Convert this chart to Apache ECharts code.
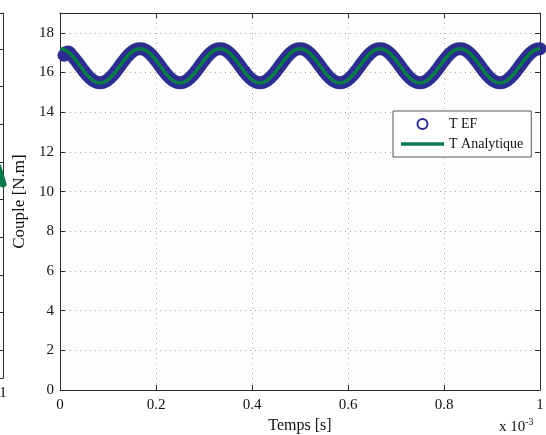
<!DOCTYPE html>
<html>
<head>
<meta charset="utf-8">
<script src="https://cdn.jsdelivr.net/npm/echarts@6/dist/echarts.min.js"></script>
<style>
html,body{margin:0;padding:0;background:#ffffff;}
#c{width:546px;height:435px;}
</style>
</head>
<body>
<div id="c"></div>
<script>
// time in microseconds (axis shows ms x 10^-3)
var timeUs = [
  0, 8.33, 16.67, 25, 33.33, 41.67, 50, 58.33, 66.67, 75,
  83.33, 91.67, 100, 108.33, 116.67, 125, 133.33, 141.67, 150, 158.33,
  166.67, 175, 183.33, 191.67, 200, 208.33, 216.67, 225, 233.33, 241.67,
  250, 258.33, 266.67, 275, 283.33, 291.67, 300, 308.33, 316.67, 325,
  333.33, 341.67, 350, 358.33, 366.67, 375, 383.33, 391.67, 400, 408.33,
  416.67, 425, 433.33, 441.67, 450, 458.33, 466.67, 475, 483.33, 491.67,
  500, 508.33, 516.67, 525, 533.33, 541.67, 550, 558.33, 566.67, 575,
  583.33, 591.67, 600, 608.33, 616.67, 625, 633.33, 641.67, 650, 658.33,
  666.67, 675, 683.33, 691.67, 700, 708.33, 716.67, 725, 733.33, 741.67,
  750, 758.33, 766.67, 775, 783.33, 791.67, 800, 808.33, 816.67, 825,
  833.33, 841.67, 850, 858.33, 866.67, 875, 883.33, 891.67, 900, 908.33,
  916.67, 925, 933.33, 941.67, 950, 958.33, 966.67, 975, 983.33, 991.67,
  1000
];
var tAnalytique = [
  17.20, 17.16, 17.04, 16.85, 16.61, 16.34, 16.07, 15.83, 15.64, 15.52,
  15.48, 15.52, 15.64, 15.83, 16.07, 16.34, 16.61, 16.85, 17.04, 17.16,
  17.20, 17.16, 17.04, 16.85, 16.61, 16.34, 16.07, 15.83, 15.64, 15.52,
  15.48, 15.52, 15.64, 15.83, 16.07, 16.34, 16.61, 16.85, 17.04, 17.16,
  17.20, 17.16, 17.04, 16.85, 16.61, 16.34, 16.07, 15.83, 15.64, 15.52,
  15.48, 15.52, 15.64, 15.83, 16.07, 16.34, 16.61, 16.85, 17.04, 17.16,
  17.20, 17.16, 17.04, 16.85, 16.61, 16.34, 16.07, 15.83, 15.64, 15.52,
  15.48, 15.52, 15.64, 15.83, 16.07, 16.34, 16.61, 16.85, 17.04, 17.16,
  17.20, 17.16, 17.04, 16.85, 16.61, 16.34, 16.07, 15.83, 15.64, 15.52,
  15.48, 15.52, 15.64, 15.83, 16.07, 16.34, 16.61, 16.85, 17.04, 17.16,
  17.20, 17.16, 17.04, 16.85, 16.61, 16.34, 16.07, 15.83, 15.64, 15.52,
  15.48, 15.52, 15.64, 15.83, 16.07, 16.34, 16.61, 16.85, 17.04, 17.16,
  17.20
];
var tEF = [
  null, 16.87, 17.04, 16.85, 16.61, 16.34, 16.07, 15.83, 15.64, 15.52,
  15.48, 15.52, 15.64, 15.83, 16.07, 16.34, 16.61, 16.85, 17.04, 17.16,
  17.20, 17.16, 17.04, 16.85, 16.61, 16.34, 16.07, 15.83, 15.64, 15.52,
  15.48, 15.52, 15.64, 15.83, 16.07, 16.34, 16.61, 16.85, 17.04, 17.16,
  17.20, 17.16, 17.04, 16.85, 16.61, 16.34, 16.07, 15.83, 15.64, 15.52,
  15.48, 15.52, 15.64, 15.83, 16.07, 16.34, 16.61, 16.85, 17.04, 17.16,
  17.20, 17.16, 17.04, 16.85, 16.61, 16.34, 16.07, 15.83, 15.64, 15.52,
  15.48, 15.52, 15.64, 15.83, 16.07, 16.34, 16.61, 16.85, 17.04, 17.16,
  17.20, 17.16, 17.04, 16.85, 16.61, 16.34, 16.07, 15.83, 15.64, 15.52,
  15.48, 15.52, 15.64, 15.83, 16.07, 16.34, 16.61, 16.85, 17.04, 17.16,
  17.20, 17.16, 17.04, 16.85, 16.61, 16.34, 16.07, 15.83, 15.64, 15.52,
  15.48, 15.52, 15.64, 15.83, 16.07, 16.34, 16.61, 16.85, 17.04, 17.16,
  17.20
];
var xTickLabels = ['0', '0.2', '0.4', '0.6', '0.8', '1'];
// partially visible neighbouring plot on the left edge
var leftX = [0.983, 1.0];
var leftY = [5.6, 5.15];
var leftYTicks = [0.74, 1.74, 2.74, 3.74, 4.74, 5.74, 6.74, 7.74, 8.74];

function zip(a, b) { var r = []; for (var i = 0; i < a.length; i++) r.push([a[i], b[i]]); return r; }

var SERIF = '"Liberation Serif", "DejaVu Serif", serif';
var AX = '#2a2a2a';
var BLUE = '#2b2d8f';
var GREEN = '#0b7a4b';
var gridDot = { show: true, lineStyle: { color: '#a8a8a8', width: 1, type: [1, 4] } };

var chart = echarts.init(document.getElementById('c'), null, { renderer: 'canvas' });
chart.setOption({
  animation: false,
  backgroundColor: '#ffffff',
  grid: [
    { left: 60, right: 6, top: 13, bottom: 45, show: true, backgroundColor: '#fdfdfd', borderWidth: 0, outerBoundsMode: 'none', containLabel: false },
    { left: -297, right: 543, top: 13, bottom: 57, show: true, backgroundColor: '#fdfdfd', borderWidth: 0, outerBoundsMode: 'none', containLabel: false }
  ],
  legend: {
    orient: 'vertical', left: 393, top: 111,
    padding: [5, 8, 5, 8], itemGap: 4, itemWidth: 43, itemHeight: 10,
    backgroundColor: '#ffffff', borderColor: '#555', borderWidth: 1, borderRadius: 0,
    textStyle: { fontFamily: SERIF, fontSize: 14, color: '#111', lineHeight: 16 },
    data: [
      { name: 'T EF', icon: 'emptyCircle', itemStyle: { color: BLUE } },
      { name: 'T Analytique', icon: 'path://M0,0 L43,0 L43,3.5 L0,3.5 Z', itemStyle: { color: GREEN } }
    ]
  },
  xAxis: [
    { gridIndex: 0, type: 'value', min: 0, max: 1000, interval: 200, position: 'bottom',
      name: 'Temps [s]', nameLocation: 'middle', nameGap: 26,
      nameTextStyle: { fontFamily: SERIF, fontSize: 16, color: '#111' },
      axisLine: { show: true, onZero: false, lineStyle: { color: AX } },
      axisTick: { show: true, inside: true, length: 5, lineStyle: { color: AX } },
      axisLabel: { margin: 8, fontFamily: SERIF, fontSize: 15, color: '#111',
        formatter: function (v) { return xTickLabels[Math.round(v / 200)]; } },
      splitLine: gridDot },
    { gridIndex: 0, type: 'value', min: 0, max: 1000, interval: 200, position: 'top',
      axisLine: { show: true, onZero: false, lineStyle: { color: AX } },
      axisTick: { show: true, inside: true, length: 5, lineStyle: { color: AX } },
      axisLabel: { show: false }, splitLine: { show: false } },
    { gridIndex: 1, type: 'value', min: 0, max: 1, interval: 0.2, position: 'bottom',
      axisLine: { show: true, onZero: false, lineStyle: { color: AX } },
      axisTick: { show: true, inside: true, length: 5, lineStyle: { color: AX } },
      axisLabel: { margin: 8, fontFamily: SERIF, fontSize: 15, color: '#111' },
      splitLine: { show: false } },
    { gridIndex: 1, type: 'value', min: 0, max: 1, interval: 0.2, position: 'top',
      axisLine: { show: true, onZero: false, lineStyle: { color: AX } },
      axisTick: { show: false }, axisLabel: { show: false }, splitLine: { show: false } }
  ],
  yAxis: [
    { gridIndex: 0, type: 'value', min: 0, max: 19, interval: 2, position: 'left',
      name: 'Couple [N.m]', nameLocation: 'middle', nameGap: 28,
      nameTextStyle: { fontFamily: SERIF, fontSize: 17, color: '#111' },
      axisLine: { show: true, onZero: false, lineStyle: { color: AX } },
      axisTick: { show: true, inside: true, length: 5, lineStyle: { color: AX } },
      axisLabel: { margin: 6, fontFamily: SERIF, fontSize: 15, color: '#111', showMaxLabel: false },
      splitLine: gridDot },
    { gridIndex: 0, type: 'value', min: 0, max: 19, interval: 2, position: 'right',
      axisLine: { show: true, onZero: false, lineStyle: { color: AX } },
      axisTick: { show: true, inside: true, length: 5, lineStyle: { color: AX } },
      axisLabel: { show: false }, splitLine: { show: false } },
    { gridIndex: 1, type: 'value', min: 0, max: 9.69, position: 'left',
      axisLine: { show: false }, axisTick: { show: false }, axisLabel: { show: false }, splitLine: { show: false } },
    { gridIndex: 1, type: 'value', min: 0, max: 9.69, position: 'right',
      axisLine: { show: true, onZero: false, lineStyle: { color: AX } },
      axisTick: { show: true, inside: true, length: 5, customValues: leftYTicks, lineStyle: { color: AX } },
      axisLabel: { show: false }, splitLine: { show: false } }
  ],
  series: [
    { name: 'T EF', type: 'line', xAxisIndex: 0, yAxisIndex: 0,
      data: zip(timeUs, tEF), smooth: true, showSymbol: false, symbol: 'emptyCircle', clip: false,
      itemStyle: { color: BLUE },
      lineStyle: { color: BLUE, width: 13, cap: 'round', join: 'round' }, z: 2 },
    { name: 'T Analytique', type: 'line', xAxisIndex: 0, yAxisIndex: 0,
      data: zip(timeUs, tAnalytique), smooth: true, showSymbol: false, symbol: 'none', clip: false,
      itemStyle: { color: GREEN },
      lineStyle: { color: GREEN, width: 3.5 }, z: 3 },
    { name: 'left', type: 'line', xAxisIndex: 2, yAxisIndex: 2,
      data: zip(leftX, leftY), showSymbol: false, symbol: 'none', clip: false,
      lineStyle: { color: GREEN, width: 7, cap: 'round' }, z: 3 }
  ],
  graphic: [
    { type: 'text', left: 499, top: 417,
      style: { text: '{a|x 10}{b|-3}', rich: {
        a: { fontFamily: SERIF, fontSize: 15, fill: '#111', verticalAlign: 'bottom', lineHeight: 18 },
        b: { fontFamily: SERIF, fontSize: 10, fill: '#111', verticalAlign: 'top', padding: [0, 0, 8, 0] } } } }
  ]
});
</script>
</body>
</html>
